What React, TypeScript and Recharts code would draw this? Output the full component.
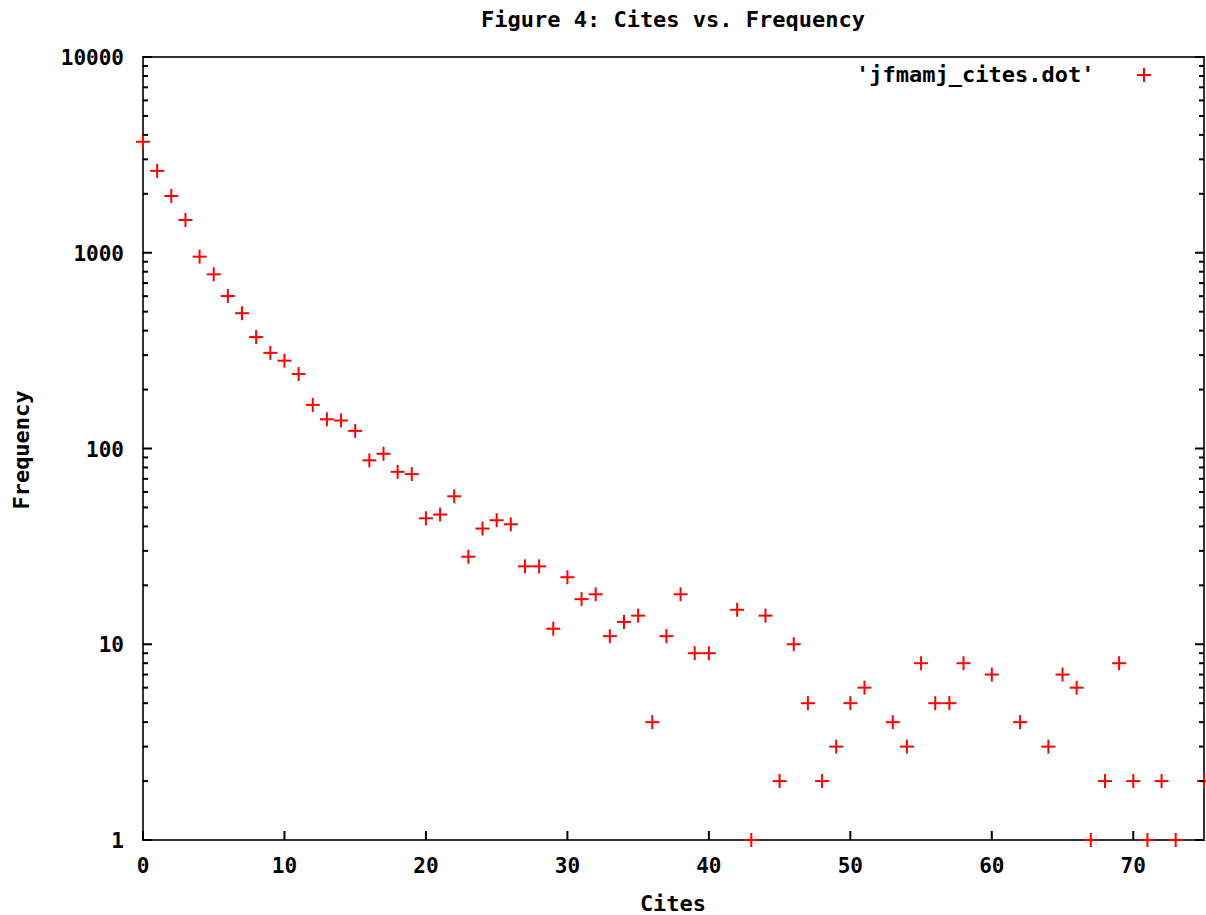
import React from "react"
import { ScatterChart, Scatter, XAxis, YAxis, ReferenceArea, Legend, Label } from "recharts"

// cites (x) and how many papers had that many cites (y)
const CITES = [
    0, 1, 2, 3, 4, 5, 6, 7, 8, 9,
    10, 11, 12, 13, 14, 15, 16, 17, 18, 19,
    20, 21, 22, 23, 24, 25, 26, 27, 28, 29,
    30, 31, 32, 33, 34, 35, 36, 37, 38, 39,
    40, 42, 43, 44, 45, 46, 47, 48, 49, 50,
    51, 53, 54, 55, 56, 57, 58, 60, 62, 64,
    65, 66, 67, 68, 69, 70, 71, 72, 73, 75,
]
const FREQUENCY = [
    3690, 2620, 1950, 1470, 955, 776, 601, 491, 371, 308,
    281, 240, 167, 141, 139, 123, 87, 94, 76, 74,
    44, 46, 57, 28, 39, 43, 41, 25, 25, 12,
    22, 17, 18, 11, 13, 14, 4, 11, 18, 9,
    9, 15, 1, 14, 2, 10, 5, 2, 3, 5,
    6, 4, 3, 8, 5, 5, 8, 7, 4, 3,
    7, 6, 1, 2, 8, 2, 1, 2, 1, 2,
]

const X_TICKS = [0, 10, 20, 30, 40, 50, 60, 70]
const DECADES = [1, 10, 100, 1000]
const MINOR_STEPS = [1, 2, 3, 4, 5, 6, 7, 8, 9]
const Y_TICKS = [...DECADES.flatMap((d) => MINOR_STEPS.map((m) => m * d)), 10000]
const Y_LABELS = [1, 10, 100, 1000, 10000]

const SERIES_NAME = "'jfmamj_cites.dot'"
const RED = "#ff0000"
const FONT = "'DejaVu Sans Mono', monospace"

const points = CITES.map((c, i) => ({ cites: c, freq: FREQUENCY[i] }))

const textStyle = { fontFamily: FONT, fontWeight: "bold" as const, fill: "#000" }

function Cross(props: any) {
    const { cx, cy } = props
    if (cx == null || cy == null) return null
    return (
        <g>
            <line x1={cx - 7} y1={cy} x2={cx + 7} y2={cy} stroke={RED} strokeWidth={2} />
            <line x1={cx} y1={cy - 7} x2={cx} y2={cy + 7} stroke={RED} strokeWidth={2} />
        </g>
    )
}

function BottomTick(props: any) {
    const { x, y, payload } = props
    return (
        <g>
            <line x1={x} y1={y} x2={x} y2={y - 9} stroke="#000" strokeWidth={2} />
            <text x={x} y={y + 33} textAnchor="middle" fontSize={21} {...textStyle}>
                {payload.value}
            </text>
        </g>
    )
}

function TopTick(props: any) {
    const { x, y } = props
    return <line x1={x} y1={y} x2={x} y2={y + 9} stroke="#000" strokeWidth={2} />
}

function LeftTick(props: any) {
    const { x, y, payload } = props
    const major = Y_LABELS.includes(payload.value)
    return (
        <g>
            <line x1={x} y1={y} x2={x + (major ? 9 : 5)} y2={y} stroke="#000" strokeWidth={2} />
            {major && (
                <text x={x - 19} y={y + 8} textAnchor="end" fontSize={21} {...textStyle}>
                    {payload.value}
                </text>
            )}
        </g>
    )
}

function RightTick(props: any) {
    const { x, y, payload } = props
    const major = Y_LABELS.includes(payload.value)
    return <line x1={x} y1={y} x2={x - (major ? 9 : 5)} y2={y} stroke="#000" strokeWidth={2} />
}

function LegendBox(props: any) {
    const item = props.payload && props.payload[0]
    return (
        <div style={{ display: "flex", alignItems: "center", height: 26 }}>
            <span style={{ fontFamily: FONT, fontWeight: "bold", fontSize: 22, lineHeight: "26px", color: "#000", whiteSpace: "pre" }}>
                {item ? item.value : SERIES_NAME}
            </span>
            <svg width={14} height={14} style={{ marginLeft: 43 }}>
                <line x1={0} y1={7} x2={14} y2={7} stroke={RED} strokeWidth={2} />
                <line x1={7} y1={0} x2={7} y2={14} stroke={RED} strokeWidth={2} />
            </svg>
        </div>
    )
}

export default function App() {
    return (
        <div style={{ position: "absolute", left: 0, top: 0, background: "#fff" }}>
            <ScatterChart width={1206} height={915} margin={{ top: 0, right: 0, bottom: 0, left: 0 }}>
                <XAxis
                    xAxisId="b"
                    type="number"
                    dataKey="cites"
                    domain={[0, 75]}
                    ticks={X_TICKS}
                    orientation="bottom"
                    height={75}
                    axisLine={false}
                    tickLine={false}
                    tickSize={0}
                    tickMargin={0}
                    interval={0}
                    tick={BottomTick}
                >
                    <Label
                        content={() => (
                            <text x={673} y={911} textAnchor="middle" fontSize={22} {...textStyle}>
                                Cites
                            </text>
                        )}
                    />
                </XAxis>
                <XAxis
                    xAxisId="t"
                    type="number"
                    domain={[0, 75]}
                    ticks={X_TICKS}
                    orientation="top"
                    height={57}
                    allowDataOverflow
                    axisLine={false}
                    tickLine={false}
                    tickSize={0}
                    tickMargin={0}
                    interval={0}
                    tick={TopTick}
                >
                    <Label
                        content={() => (
                            <text x={673} y={27} textAnchor="middle" fontSize={22} {...textStyle}>
                                Figure 4: Cites vs. Frequency
                            </text>
                        )}
                    />
                </XAxis>
                <YAxis
                    yAxisId="l"
                    type="number"
                    dataKey="freq"
                    scale="log"
                    domain={[1, 10000]}
                    ticks={Y_TICKS}
                    orientation="left"
                    width={143}
                    axisLine={false}
                    tickLine={false}
                    tickSize={0}
                    tickMargin={0}
                    interval={0}
                    tick={LeftTick}
                >
                    <Label
                        content={() => (
                            <text transform="translate(29,450) rotate(-90)" textAnchor="middle" fontSize={22} {...textStyle}>
                                Frequency
                            </text>
                        )}
                    />
                </YAxis>
                <YAxis
                    yAxisId="r"
                    type="number"
                    scale="log"
                    domain={[1, 10000]}
                    ticks={Y_TICKS}
                    orientation="right"
                    width={2}
                    allowDataOverflow
                    axisLine={false}
                    tickLine={false}
                    tickSize={0}
                    tickMargin={0}
                    interval={0}
                    tick={RightTick}
                />
                <ReferenceArea
                    xAxisId="b"
                    yAxisId="l"
                    x1={0}
                    x2={75}
                    y1={1}
                    y2={10000}
                    fill="none"
                    fillOpacity={0}
                    stroke="#333"
                    strokeWidth={2}
                />
                <Scatter
                    name={SERIES_NAME}
                    xAxisId="b"
                    yAxisId="l"
                    data={points}
                    fill={RED}
                    shape={Cross}
                    isAnimationActive={false}
                />
                <Legend
                    layout="vertical"
                    align="center"
                    verticalAlign="middle"
                    content={LegendBox}
                    wrapperStyle={{ position: "absolute", left: 856, top: 62, width: "auto", height: 26 }}
                />
            </ScatterChart>
        </div>
    )
}
